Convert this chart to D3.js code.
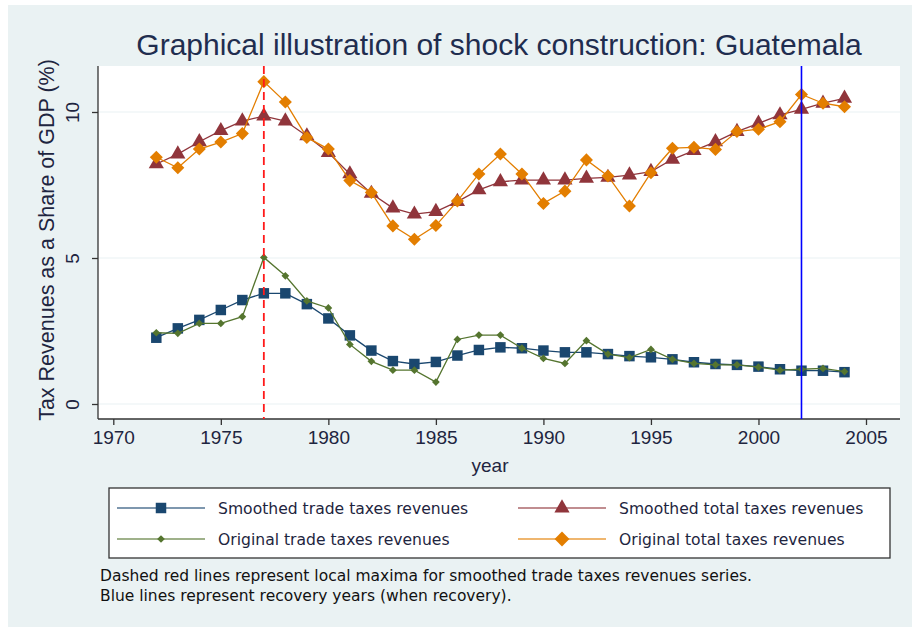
<!DOCTYPE html>
<html><head><meta charset="utf-8">
<script src="https://cdn.jsdelivr.net/npm/d3@7"></script>
<style>
html,body{margin:0;padding:0;background:#fff;}
</style></head>
<body>
<svg id="c" width="912" height="627" font-family="Liberation Sans, Arial, sans-serif"></svg>
<script>
const years = d3.range(1972, 2005);
const smoothedTrade = [2.27,2.59,2.88,3.22,3.56,3.79,3.79,3.42,2.93,2.35,1.83,1.47,1.37,1.44,1.66,1.85,1.94,1.91,1.83,1.77,1.77,1.71,1.64,1.60,1.53,1.43,1.37,1.34,1.28,1.19,1.14,1.14,1.09];
const smoothedTotal = [8.22,8.56,8.98,9.36,9.69,9.86,9.69,9.18,8.61,7.88,7.21,6.71,6.50,6.59,6.93,7.33,7.61,7.67,7.67,7.67,7.73,7.76,7.84,7.96,8.38,8.68,8.98,9.33,9.61,9.90,10.09,10.30,10.47];
const originalTrade = [2.44,2.42,2.76,2.76,2.99,5.02,4.39,3.53,3.29,2.04,1.46,1.16,1.16,0.75,2.21,2.36,2.36,1.91,1.56,1.39,2.17,1.71,1.59,1.87,1.53,1.39,1.34,1.34,1.26,1.16,1.19,1.22,1.11];
const originalTotal = [8.45,8.09,8.73,8.97,9.26,11.04,10.34,9.13,8.73,7.65,7.24,6.10,5.64,6.11,6.95,7.88,8.56,7.88,6.87,7.29,8.36,7.81,6.78,7.92,8.76,8.79,8.72,9.33,9.41,9.67,10.60,10.30,10.18];
const xTicks = [1970,1975,1980,1985,1990,1995,2000,2005];
const yTicks = [0,5,10];
const maximaYears = [1977];
const recoveryYears = [2002];
const seriesNames = ["Smoothed trade taxes revenues","Smoothed total taxes revenues","Original trade taxes revenues","Original total taxes revenues"];
const titleText = "Graphical illustration of shock construction: Guatemala";
const noteLines = ["Dashed red lines represent local maxima for smoothed trade taxes revenues series.","Blue lines represent recovery years (when recovery)."];

const svg = d3.select("#c");
const bg = "#eaf2f3";
svg.append("rect").attr("x",8).attr("y",5).attr("width",904).attr("height",622).attr("fill",bg);

const plot = {l:98, r:900, t:66, b:419};
svg.append("rect").attr("x",plot.l).attr("y",plot.t).attr("width",plot.r-plot.l).attr("height",plot.b-plot.t).attr("fill","#fff");

const x = d3.scaleLinear().domain([1970,2005]).range([113.3,866]);
const y = d3.scaleLinear().domain([0,10]).range([404,112]);

// grid
svg.append("g").selectAll("line").data(yTicks).join("line")
  .attr("x1",plot.l).attr("x2",plot.r).attr("y1",d=>y(d)).attr("y2",d=>y(d))
  .attr("stroke",bg).attr("stroke-width",1.2);

const textCol = "#1e2540";
// y axis
const yAxis = svg.append("g").attr("transform",`translate(${plot.l},0)`)
  .call(d3.axisLeft(y).tickValues(yTicks).tickSize(6).tickFormat(d3.format("d")));
yAxis.attr("font-family",null);
yAxis.select(".domain").attr("d",`M0,${plot.t}V${plot.b}`).attr("stroke","#333").attr("stroke-width",1.3);
yAxis.selectAll(".tick line").attr("stroke","#333").attr("stroke-width",1.3);
yAxis.selectAll(".tick text").attr("fill",textCol).attr("font-size",19)
  .attr("transform","rotate(-90)").attr("x",0).attr("y",-19).attr("dy","0").attr("text-anchor","middle");

// x axis
const xAxis = svg.append("g").attr("transform",`translate(0,${plot.b})`)
  .call(d3.axisBottom(x).tickValues(xTicks).tickSize(6).tickFormat(d3.format("d")));
xAxis.attr("font-family",null);
xAxis.select(".domain").attr("d",`M${plot.l},0H${plot.r}`).attr("stroke","#333").attr("stroke-width",1.3);
xAxis.selectAll(".tick text").attr("fill",textCol).attr("font-size",19).attr("y",12).attr("dy","0.71em");
xAxis.selectAll(".tick line").attr("stroke","#333").attr("stroke-width",1.3);

// axis titles
svg.append("text").attr("x",490).attr("y",472).attr("text-anchor","middle").attr("font-size",19).attr("fill",textCol).text("year");
svg.append("text").attr("transform",`translate(54,240) rotate(-90)`).attr("text-anchor","middle").attr("font-size",21.5).attr("fill",textCol).text("Tax Revenues as a Share of GDP (%)");

// title
svg.append("text").attr("x",499).attr("y",55).attr("text-anchor","middle").attr("font-size",30).attr("fill","#1f2d4f").text(titleText);

const colors = ["#1a476f","#90353b","#55752f","#e37e00"];
const data = [smoothedTrade, smoothedTotal, originalTrade, originalTotal];
const symbols = [d3.symbolSquare, d3.symbolTriangle, d3.symbolSquare, d3.symbolSquare];
const rot = [0,0,45,45];
const sizes = [110, 100, 30, 85];

const line = d3.line().x((d,i)=>x(years[i])).y(d=>y(d));
[0,1,2,3].forEach(k=>{
  svg.append("path").datum(data[k]).attr("d",line).attr("fill","none").attr("stroke",colors[k]).attr("stroke-width",1.3);
  svg.append("g").selectAll("path").data(data[k]).join("path")
    .attr("transform",(d,i)=>`translate(${x(years[i])},${y(d)}) rotate(${rot[k]})`)
    .attr("d",d3.symbol().type(symbols[k]).size(sizes[k]))
    .attr("fill",colors[k]);
});

// vertical lines
svg.append("g").selectAll("line").data(maximaYears).join("line")
  .attr("x1",d=>x(d)).attr("x2",d=>x(d)).attr("y1",plot.t).attr("y2",plot.b)
  .attr("stroke","#ff1a1a").attr("stroke-width",1.8).attr("stroke-dasharray","8,5");
svg.append("g").selectAll("line").data(recoveryYears).join("line")
  .attr("x1",d=>x(d)).attr("x2",d=>x(d)).attr("y1",plot.t).attr("y2",plot.b)
  .attr("stroke","#0000ff").attr("stroke-width",1.6);

// legend
const lg = svg.append("g");
lg.append("rect").attr("x",109).attr("y",488).attr("width",781).attr("height",70).attr("fill","#fff").attr("stroke","#333").attr("stroke-width",1.3);
const legPos = [{x:117,y:508},{x:518,y:508},{x:117,y:539},{x:518,y:539}];
const legSizes = [110, 100, 30, 110];
seriesNames.forEach((name,k)=>{
  const p = legPos[k];
  lg.append("line").attr("x1",p.x).attr("x2",p.x+88).attr("y1",p.y).attr("y2",p.y).attr("stroke",colors[k]).attr("stroke-width",1.3).attr("opacity",0.75);
  lg.append("path").attr("transform",`translate(${p.x+44},${p.y}) rotate(${rot[k]})`).attr("d",d3.symbol().type(symbols[k]).size(legSizes[k])).attr("fill",colors[k]);
  lg.append("text").attr("x",p.x+101).attr("y",p.y+5.5).attr("font-size",15.6).attr("font-family","DejaVu Sans").attr("fill","#1e2540").text(name);
});

// note
svg.append("g").selectAll("text").data(noteLines).join("text")
  .attr("x",100).attr("y",(d,i)=>581+i*20).attr("font-size",15.5).attr("font-family","DejaVu Sans").attr("fill","#111").text(d=>d);
</script>
</body></html>
